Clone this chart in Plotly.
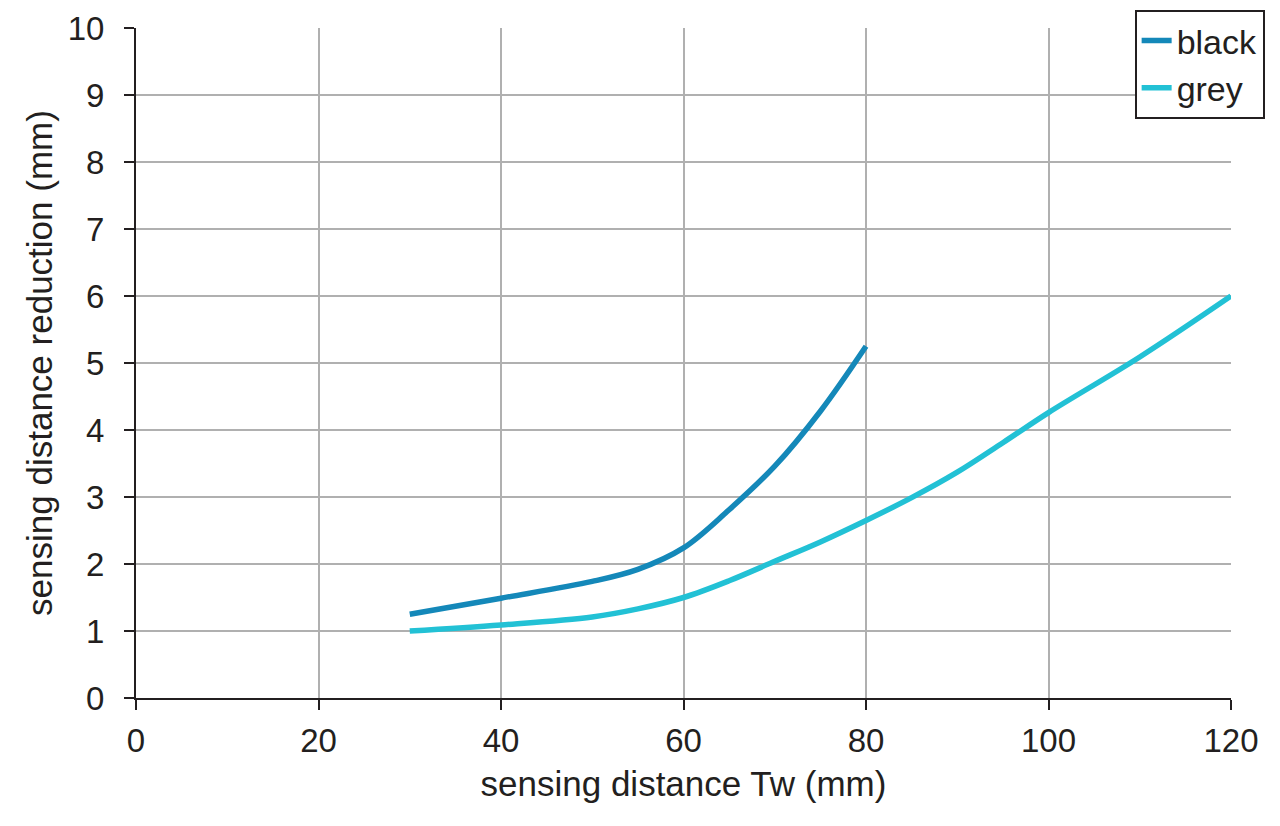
import plotly.graph_objects as go

# values
black_x = [30, 40, 50, 55, 60, 65, 70, 75, 80]
black_y = [1.25, 1.49, 1.74, 1.92, 2.24, 2.81, 3.46, 4.28, 5.25]

grey_x = [30, 40, 50, 55, 60, 65, 70, 75, 80, 85, 90, 95, 100, 110, 120]
grey_y = [1.0, 1.09, 1.21, 1.33, 1.5, 1.75, 2.04, 2.33, 2.65, 2.99, 3.37, 3.81, 4.26, 5.09, 6.0]

x_ticks = [0, 20, 40, 60, 80, 100, 120]
y_ticks = list(range(0, 11))

fig = go.Figure()
fig.add_trace(go.Scatter(x=black_x, y=black_y, name='black', mode='lines',
                         line=dict(color='#1488b9', width=5.5, shape='spline')))
fig.add_trace(go.Scatter(x=grey_x, y=grey_y, name='grey', mode='lines',
                         line=dict(color='#22c1d5', width=5.5, shape='spline')))

tick_font = dict(family='Liberation Sans, Arial', size=33, color='#231f20')
title_font = dict(family='Liberation Sans, Arial', size=35, color='#231f20')

# page body adds ~8px around the figure, margins compensate for it
fig.update_layout(
    margin=dict(l=128, r=41, t=20, b=120, autoexpand=False),
    plot_bgcolor='white', paper_bgcolor='white',
    font=tick_font,
    xaxis=dict(title=dict(text='sensing distance Tw (mm)', font=title_font, standoff=14),
               range=[0, 120], tickvals=x_ticks, showgrid=True, gridcolor='#b0b0b0',
               gridwidth=1.5, showline=True, linecolor='#231f20', linewidth=2,
               ticks='outside', ticklen=10, tickwidth=2, tickcolor='#231f20',
               ticklabelstandoff=2, zeroline=False, tickfont=tick_font),
    yaxis=dict(title=dict(text='sensing distance reduction (mm)', font=title_font, standoff=4),
               range=[0, 10], tickvals=y_ticks, showgrid=True, gridcolor='#b0b0b0',
               gridwidth=1.5, showline=True, linecolor='#231f20', linewidth=2,
               ticks='outside', ticklen=10, tickwidth=2, tickcolor='#231f20',
               ticklabelstandoff=13, zeroline=False, tickfont=tick_font),
    legend=dict(x=0.912, y=1.027, xanchor='left', yanchor='top',
                bgcolor='white', bordercolor='#231f20', borderwidth=2,
                font=dict(family='Liberation Sans, Arial', size=34, color='#231f20'),
                itemwidth=30, tracegroupgap=0),
    showlegend=True,
)

fig.write_html("out.html")
